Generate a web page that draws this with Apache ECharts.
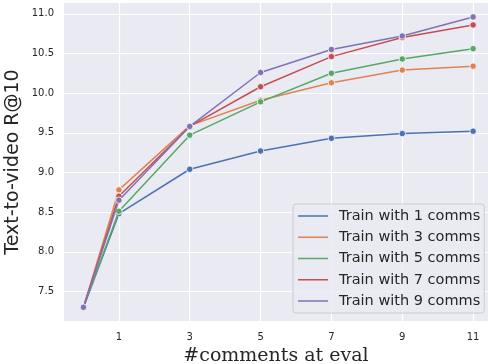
<!DOCTYPE html>
<html><head><meta charset="utf-8">
<script src="https://cdn.jsdelivr.net/npm/echarts@6/dist/echarts.min.js"></script>
<style>html,body{margin:0;padding:0;background:#fff}#c{width:488px;height:364px}</style>
</head><body><div id="c"></div>
<script>
const xValues = [0, 1, 3, 5, 7, 9, 11];
const xTicks = [1, 3, 5, 7, 9, 11];
const yTicks = [7.5, 8.0, 8.5, 9.0, 9.5, 10.0, 10.5, 11.0];
const seriesNames = ["Train with 1 comms", "Train with 3 comms", "Train with 5 comms", "Train with 7 comms", "Train with 9 comms"];
const train1 = [7.30, 8.48, 9.04, 9.27, 9.43, 9.49, 9.52];
const train3 = [7.30, 8.78, 9.59, 9.91, 10.13, 10.29, 10.34];
const train5 = [7.30, 8.51, 9.47, 9.89, 10.25, 10.43, 10.56];
const train7 = [7.30, 8.70, 9.58, 10.08, 10.46, 10.70, 10.86];
const train9 = [7.30, 8.65, 9.58, 10.26, 10.55, 10.72, 10.96];
const colors = ["#4C72B0", "#DD8452", "#55A868", "#C44E52", "#8172B3"];
const allData = [train1, train3, train5, train7, train9];

const chart = echarts.init(document.getElementById('c'));
const series = allData.map((d, i) => ({
  name: seriesNames[i],
  type: 'line',
  data: xValues.map((x, j) => [x, d[j]]),
  symbol: 'circle',
  symbolSize: 6.5,
  showSymbol: true,
  lineStyle: {width: 1.5, color: colors[i]},
  itemStyle: {color: colors[i], borderColor: '#ffffff', borderWidth: 0.8},
  emphasis: {disabled: true},
  animation: false,
  z: 3 + i
}));
chart.setOption({
  animation: false,
  backgroundColor: '#ffffff',
  grid: {left: 64, top: 3, right: 0, bottom: 43, show: true, backgroundColor: '#EAEAF2', borderWidth: 0, outerBoundsMode: 'none', containLabel: false},
  xAxis: {
    type: 'value', min: -0.55, max: 11.42,
    name: '#comments at eval', nameLocation: 'middle', nameGap: 26, nameMoveOverlap: false,
    nameTextStyle: {fontFamily: 'DejaVu Serif', fontSize: 19, color: '#262626'},
    axisLine: {show: false}, axisTick: {show: false, customValues: xTicks},
    axisLabel: {customValues: xTicks, fontFamily: 'DejaVu Sans', fontSize: 10, color: '#262626', margin: 11},
    splitLine: {show: true, lineStyle: {color: '#ffffff', width: 1.2}}
  },
  yAxis: {
    type: 'value', min: 7.127, max: 11.136,
    name: 'Text-to-video R@10', nameLocation: 'middle', nameGap: 41, nameMoveOverlap: false,
    nameTextStyle: {fontFamily: 'DejaVu Sans', fontSize: 19, color: '#262626'},
    axisLine: {show: false}, axisTick: {show: false, customValues: yTicks},
    axisLabel: {customValues: yTicks, fontFamily: 'DejaVu Sans', fontSize: 10, color: '#262626', margin: 10,
      formatter: v => v.toFixed(1)},
    splitLine: {show: true, lineStyle: {color: '#ffffff', width: 1.2}}
  },
  legend: {
    orient: 'vertical', left: 293, top: 204,
    data: seriesNames,
    icon: 'rect', itemWidth: 30, itemHeight: 1.5, itemGap: 4.25,
    itemStyle: {borderWidth: 0},
    padding: [3.5, 4, 3.5, 5],
    backgroundColor: 'rgba(234,234,242,0.8)', borderColor: '#cccccc', borderWidth: 1, borderRadius: 3,
    textStyle: {fontFamily: 'DejaVu Sans', fontSize: 14.5, color: '#262626', lineHeight: 17, padding: [0, 0, 0, 6]},
    selectedMode: false
  },
  series: series
});
</script></body></html>
